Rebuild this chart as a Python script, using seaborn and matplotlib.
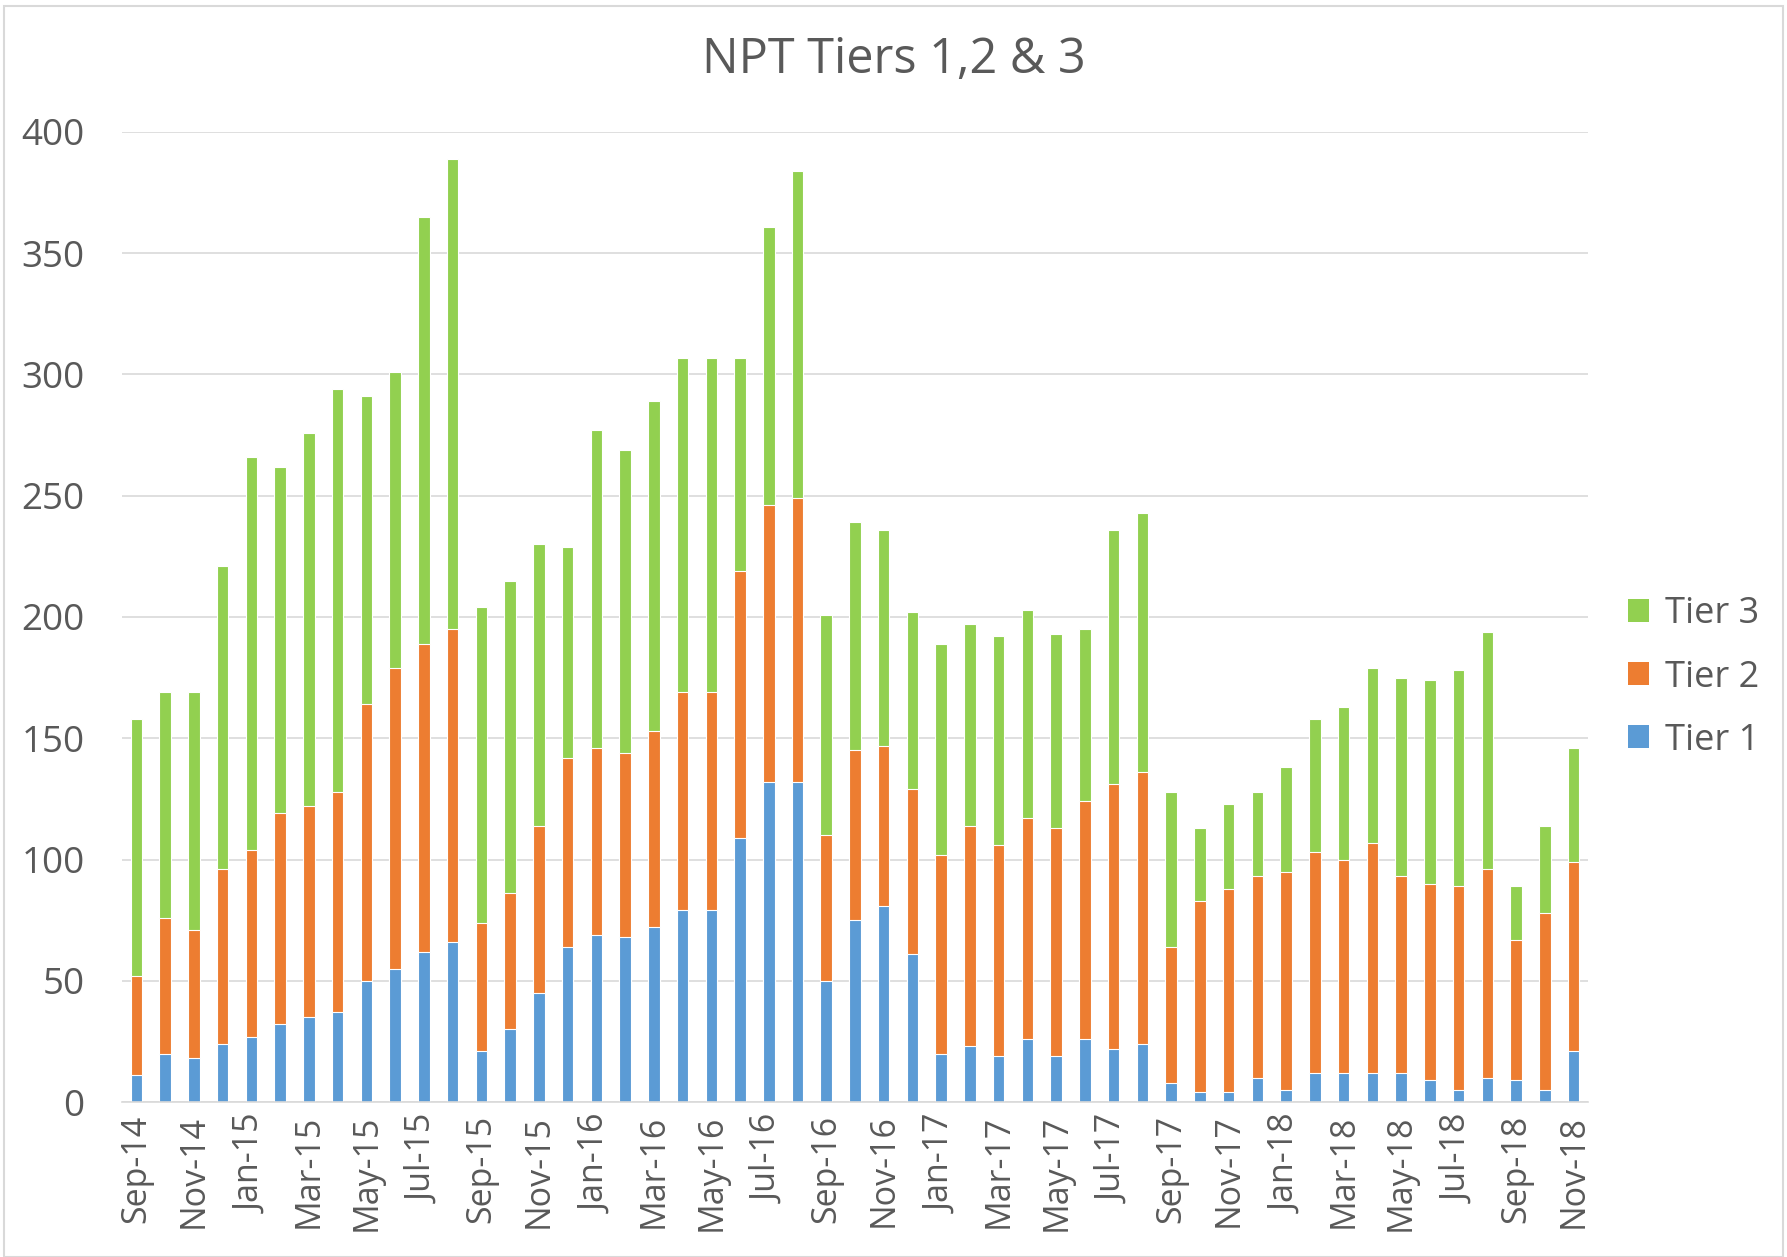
import numpy as np
import pandas as pd
import matplotlib
matplotlib.use("Agg")
import matplotlib.pyplot as plt
from matplotlib.patches import Patch, Rectangle
import seaborn as sns

# ---------------------------------------------------------
# data
# ---------------------------------------------------------
months = [
    "Sep-14", "Oct-14", "Nov-14", "Dec-14",
    "Jan-15", "Feb-15", "Mar-15", "Apr-15", "May-15", "Jun-15",
    "Jul-15", "Aug-15", "Sep-15", "Oct-15", "Nov-15", "Dec-15",
    "Jan-16", "Feb-16", "Mar-16", "Apr-16", "May-16", "Jun-16",
    "Jul-16", "Aug-16", "Sep-16", "Oct-16", "Nov-16", "Dec-16",
    "Jan-17", "Feb-17", "Mar-17", "Apr-17", "May-17", "Jun-17",
    "Jul-17", "Aug-17", "Sep-17", "Oct-17", "Nov-17", "Dec-17",
    "Jan-18", "Feb-18", "Mar-18", "Apr-18", "May-18", "Jun-18",
    "Jul-18", "Aug-18", "Sep-18", "Oct-18", "Nov-18",
]
tier1 = [11, 20, 18, 24, 27, 32, 35, 37, 50, 55,
         62, 66, 21, 30, 45, 64, 69, 68, 72, 79,
         79, 109, 132, 132, 50, 75, 81, 61, 20, 23,
         19, 26, 19, 26, 22, 24, 8, 4, 4, 10,
         5, 12, 12, 12, 12, 9, 5, 10, 9, 5,
         21]
tier2 = [41, 56, 53, 72, 77, 87, 87, 91, 114, 124,
         127, 129, 53, 56, 69, 78, 77, 76, 81, 90,
         90, 110, 114, 117, 60, 70, 66, 68, 82, 91,
         87, 91, 94, 98, 109, 112, 56, 79, 84, 83,
         90, 91, 88, 95, 81, 81, 84, 86, 58, 73,
         78]
tier3 = [106, 93, 98, 125, 162, 143, 154, 166, 127, 122,
         176, 194, 130, 129, 116, 87, 131, 125, 136, 138,
         138, 88, 115, 135, 91, 94, 89, 73, 87, 83,
         86, 86, 80, 71, 105, 107, 64, 30, 35, 35,
         43, 55, 63, 72, 82, 84, 89, 98, 22, 36,
         47]

tiers = ["Tier 1", "Tier 2", "Tier 3"]
colors = {"Tier 1": "#5B9BD5", "Tier 2": "#ED7D31", "Tier 3": "#92D050"}

df = pd.DataFrame({"month": months, "Tier 1": tier1, "Tier 2": tier2, "Tier 3": tier3})
# 누적값: 위쪽 tier부터 겹쳐 그리면 stacked bar 모양이 됨
df["top1"] = df["Tier 1"]
df["top2"] = df["Tier 1"] + df["Tier 2"]
df["top3"] = df["top2"] + df["Tier 3"]

# ---------------------------------------------------------
# plot
# ---------------------------------------------------------
sns.set_theme(style="white")
plt.rcParams["font.family"] = ["Open Sans", "DejaVu Sans"]
text_grey = "#595959"

fig = plt.figure(figsize=(17.87, 12.57), dpi=100)
ax = fig.add_axes([0.0683, 0.1233, 0.8203, 0.7717])

for col, tier in [("top3", "Tier 3"), ("top2", "Tier 2"), ("top1", "Tier 1")]:
    sns.barplot(data=df, x="month", y=col, color=colors[tier], saturation=1,
                width=0.4, edgecolor="white", linewidth=0.8, ax=ax)

ax.set_ylim(0, 400)
ax.set_xlim(-0.5, len(months) - 0.5)
ax.set_yticks(range(0, 401, 50))
ax.yaxis.grid(True, color="#D9D9D9", linewidth=1.2)
ax.set_axisbelow(True)
for s in ["top", "right", "left"]:
    ax.spines[s].set_visible(False)
ax.spines["bottom"].set_color("#D9D9D9")
ax.spines["bottom"].set_linewidth(1.2)

ax.set_xticks(range(0, len(months), 2))
ax.set_xticklabels(months[::2], rotation=90)
ax.set_xticks(np.arange(-0.5, len(months), 2), minor=True)
ax.tick_params(axis="x", which="major", length=0, pad=9, labelsize=24.5, colors=text_grey)
ax.tick_params(axis="x", which="minor", length=7, width=1.2, color="#D9D9D9")
ax.tick_params(axis="y", length=0, pad=27, labelsize=26.5, colors=text_grey)
ax.set_xlabel("")
ax.set_ylabel("")

fig.suptitle("NPT Tiers 1,2 & 3", x=0.5, y=0.972, fontsize=35, color=text_grey)

handles = [Patch(facecolor=colors[t], edgecolor="none") for t in tiers[::-1]]
fig.legend(handles, tiers[::-1], loc="center left", bbox_to_anchor=(0.893, 0.461),
           frameon=False, fontsize=26, labelcolor=text_grey,
           handlelength=0.56, handleheight=0.6, handletextpad=0.45, labelspacing=0.75)

# chart border
fig.patches.append(Rectangle((0.002, 0.0), 0.996, 0.995, transform=fig.transFigure,
                             fill=False, edgecolor="#D9D9D9", linewidth=1.5))

fig.savefig("out.png", dpi=100)
plt.close()
